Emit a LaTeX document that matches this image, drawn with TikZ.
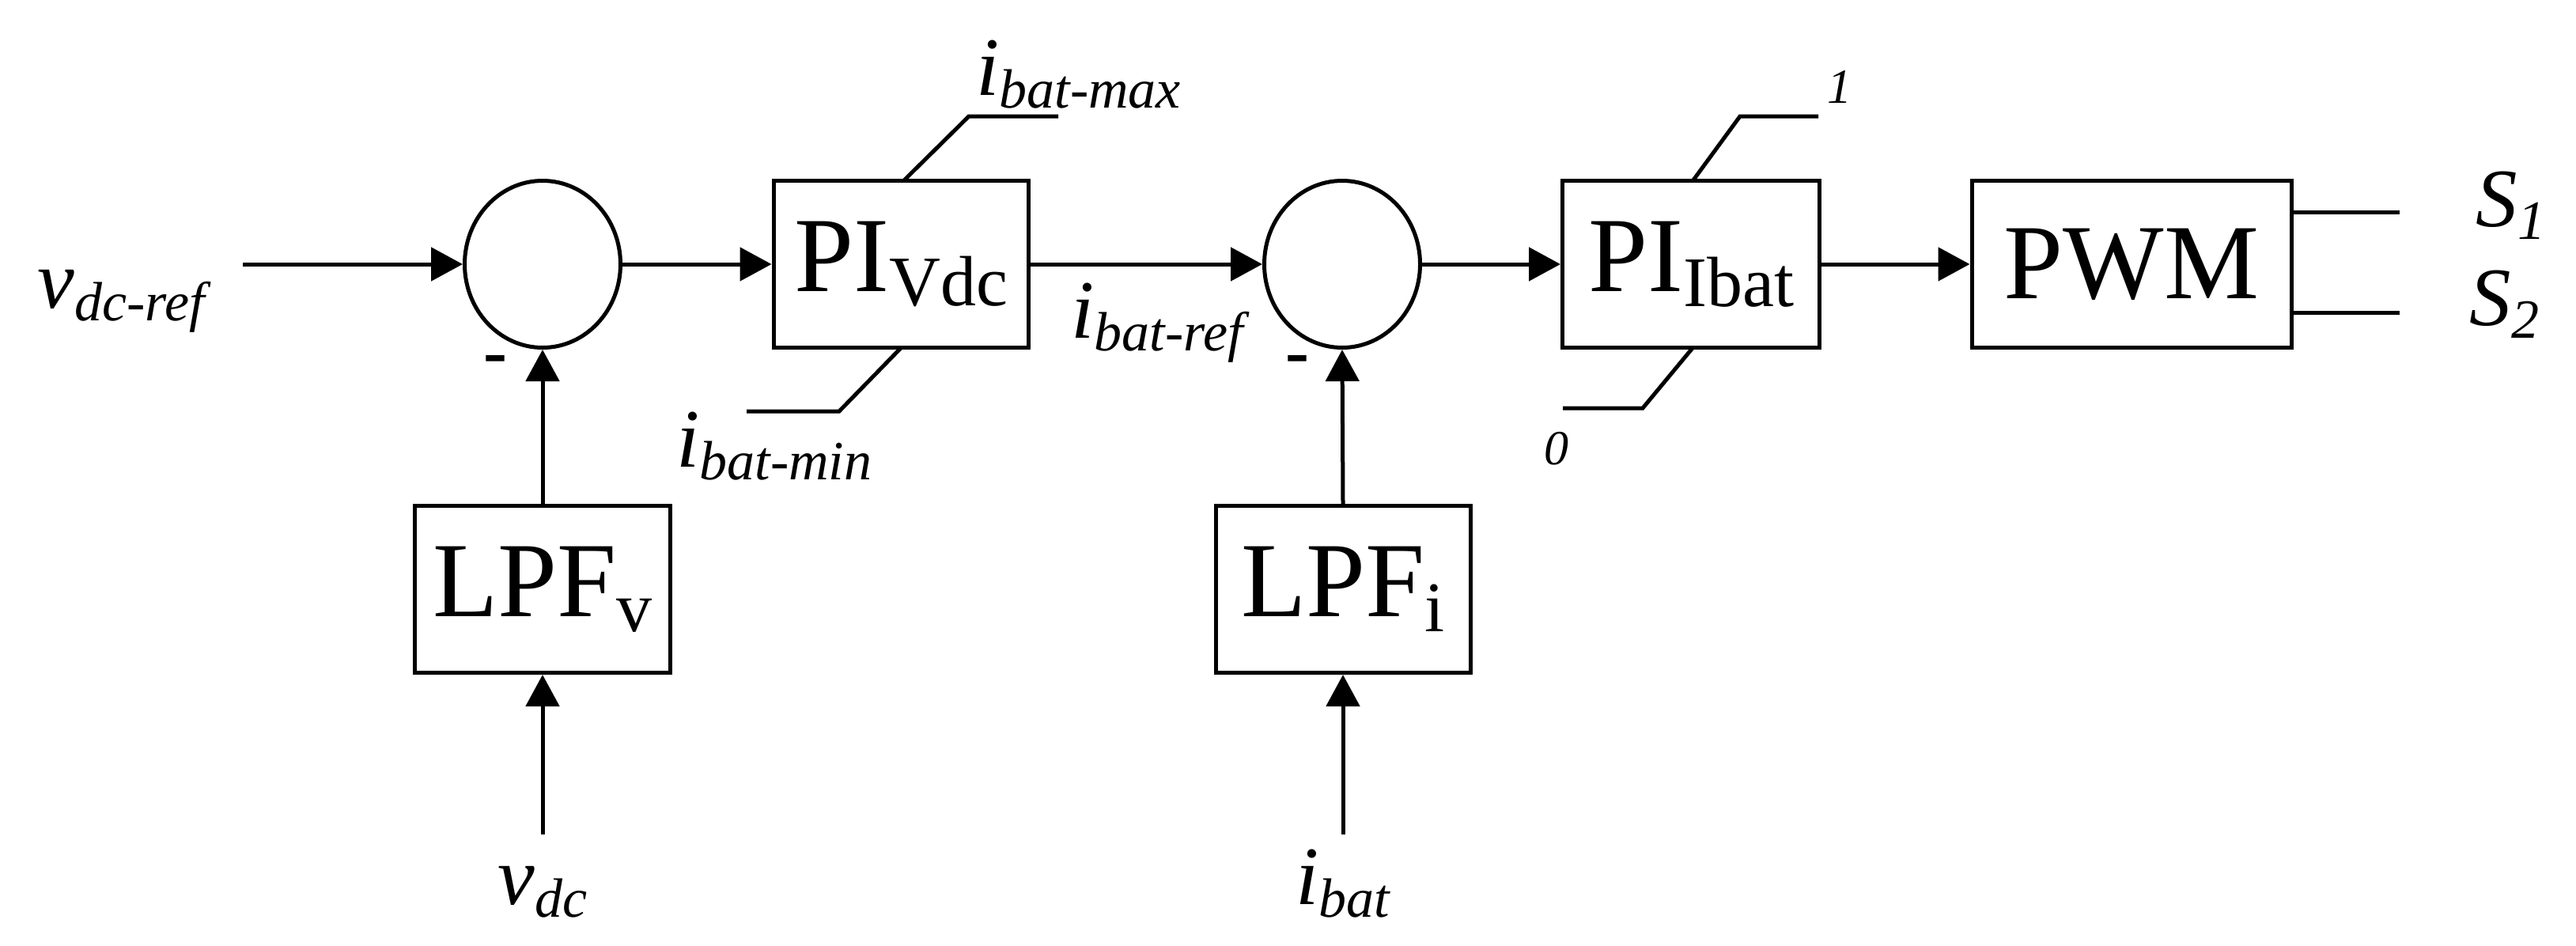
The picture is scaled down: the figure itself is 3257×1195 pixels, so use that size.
\documentclass[tikz,border=0pt]{standalone}
\usepackage{fontspec}
\setmainfont{Liberation Serif}
\usetikzlibrary{arrows.meta,shapes.geometric}
\newcommand{\sbx}[1]{\raisebox{-0.35ex}{\fontsize{70}{70}\selectfont #1}}
\newcommand{\sbr}[1]{\raisebox{-0.3ex}{\fontsize{90}{90}\selectfont #1}}
\begin{document}
\begin{tikzpicture}[x=1pt,y=-1pt,line width=5pt,
  blk/.style={draw,line width=5pt,minimum width=#1,minimum height=211pt,inner sep=0pt,font=\fontsize{135}{135}\selectfont},
  sum/.style={draw,ellipse,line width=5pt,minimum width=197pt,minimum height=211pt,inner sep=0pt},
  arr/.style={-{Triangle[length=40pt,width=42pt]}},
  lab/.style={font=\fontsize{105}{105}\selectfont\itshape,inner sep=0pt},
  small/.style={font=\fontsize{62}{62}\selectfont\itshape,inner sep=0pt}]
\useasboundingbox (0,0) rectangle (3257,1195);
\node[sum] (s1) at (686,334) {};
\node[sum] (s2) at (1697,334) {};
\node[blk=322pt] (pv) at (1139,334) {PI\sbr{Vdc}};
\node[blk=325pt] (pi) at (2138,334) {PI\sbr{Ibat}};
\node[blk=404pt] (pwm) at (2695,334) {PWM};
\node[blk=323pt] (lv) at (686,745) {LPF\sbr{v}};
\node[blk=322pt] (li) at (1698,745) {LPF\sbr{i}};
\node[lab,anchor=base west] (vref) at (45,389) {v\sbx{dc-ref}};
\coordinate (vin) at (307,334);
\draw[arr] (vin) -- (s1.west);
\draw[arr] (s1.east) -- (pv.west);
\draw[arr] (pv.east) -- (s2.west);
\draw[arr] (s2.east) -- (pi.west);
\draw[arr] (pi.east) -- (pwm.west);
\draw[arr] (lv.north) -- (s1.south);
\draw[arr] (li.north) -- (s2.south);
\coordinate (vdcin) at (686,1055);
\coordinate (ibin) at (1698,1055);
\draw[arr] (vdcin) -- (lv.south);
\draw[arr] (ibin) -- (li.south);
\node[lab,anchor=base] (vdc) at (686,1143) {v\sbx{dc}};
\node[lab,anchor=base] (ib) at (1698,1143) {i\sbx{bat}};
\node[font=\fontsize{90}{90}\selectfont\bfseries,inner sep=0pt] (m1) at (626,462) {-};
\node[font=\fontsize{90}{90}\selectfont\bfseries,inner sep=0pt] (m2) at (1640,462) {-};
\node[lab,anchor=base west] (iref) at (1352,427) {i\sbx{bat-ref}};
% limits
\coordinate (a1) at (1142,229); \coordinate (a2) at (1225,147); \coordinate (a3) at (1338,147);
\draw (a1) -- (a2) -- (a3);
\node[lab,anchor=base west] (imax) at (1232,120) {i\sbx{bat-max}};
\coordinate (b1) at (1139,440); \coordinate (b2) at (1061,520); \coordinate (b3) at (944,520);
\draw (b1) -- (b2) -- (b3);
\node[lab,anchor=base west] (imin) at (853,590) {i\sbx{bat-min}};
\coordinate (c1) at (2140,229); \coordinate (c2) at (2200,147); \coordinate (c3) at (2299,147);
\draw (c1) -- (c2) -- (c3);
\node[small,anchor=base west] (one) at (2308,130) {1};
\coordinate (d1) at (2140,440); \coordinate (d2) at (2077,516); \coordinate (d3) at (1976,516);
\draw (d1) -- (d2) -- (d3);
\node[small,anchor=base west] (zero) at (1950,587) {0};
% outputs
\coordinate (o1) at (3034,268); \coordinate (o2) at (3034,395);
\draw (pwm.east |- o1) -- (o1);
\draw (pwm.east |- o2) -- (o2);
\node[lab,anchor=base west] (s1l) at (3128,286) {S\sbx{1}};
\node[lab,anchor=base west] (s2l) at (3120,411) {S\sbx{2}};
\end{tikzpicture}
\end{document}
